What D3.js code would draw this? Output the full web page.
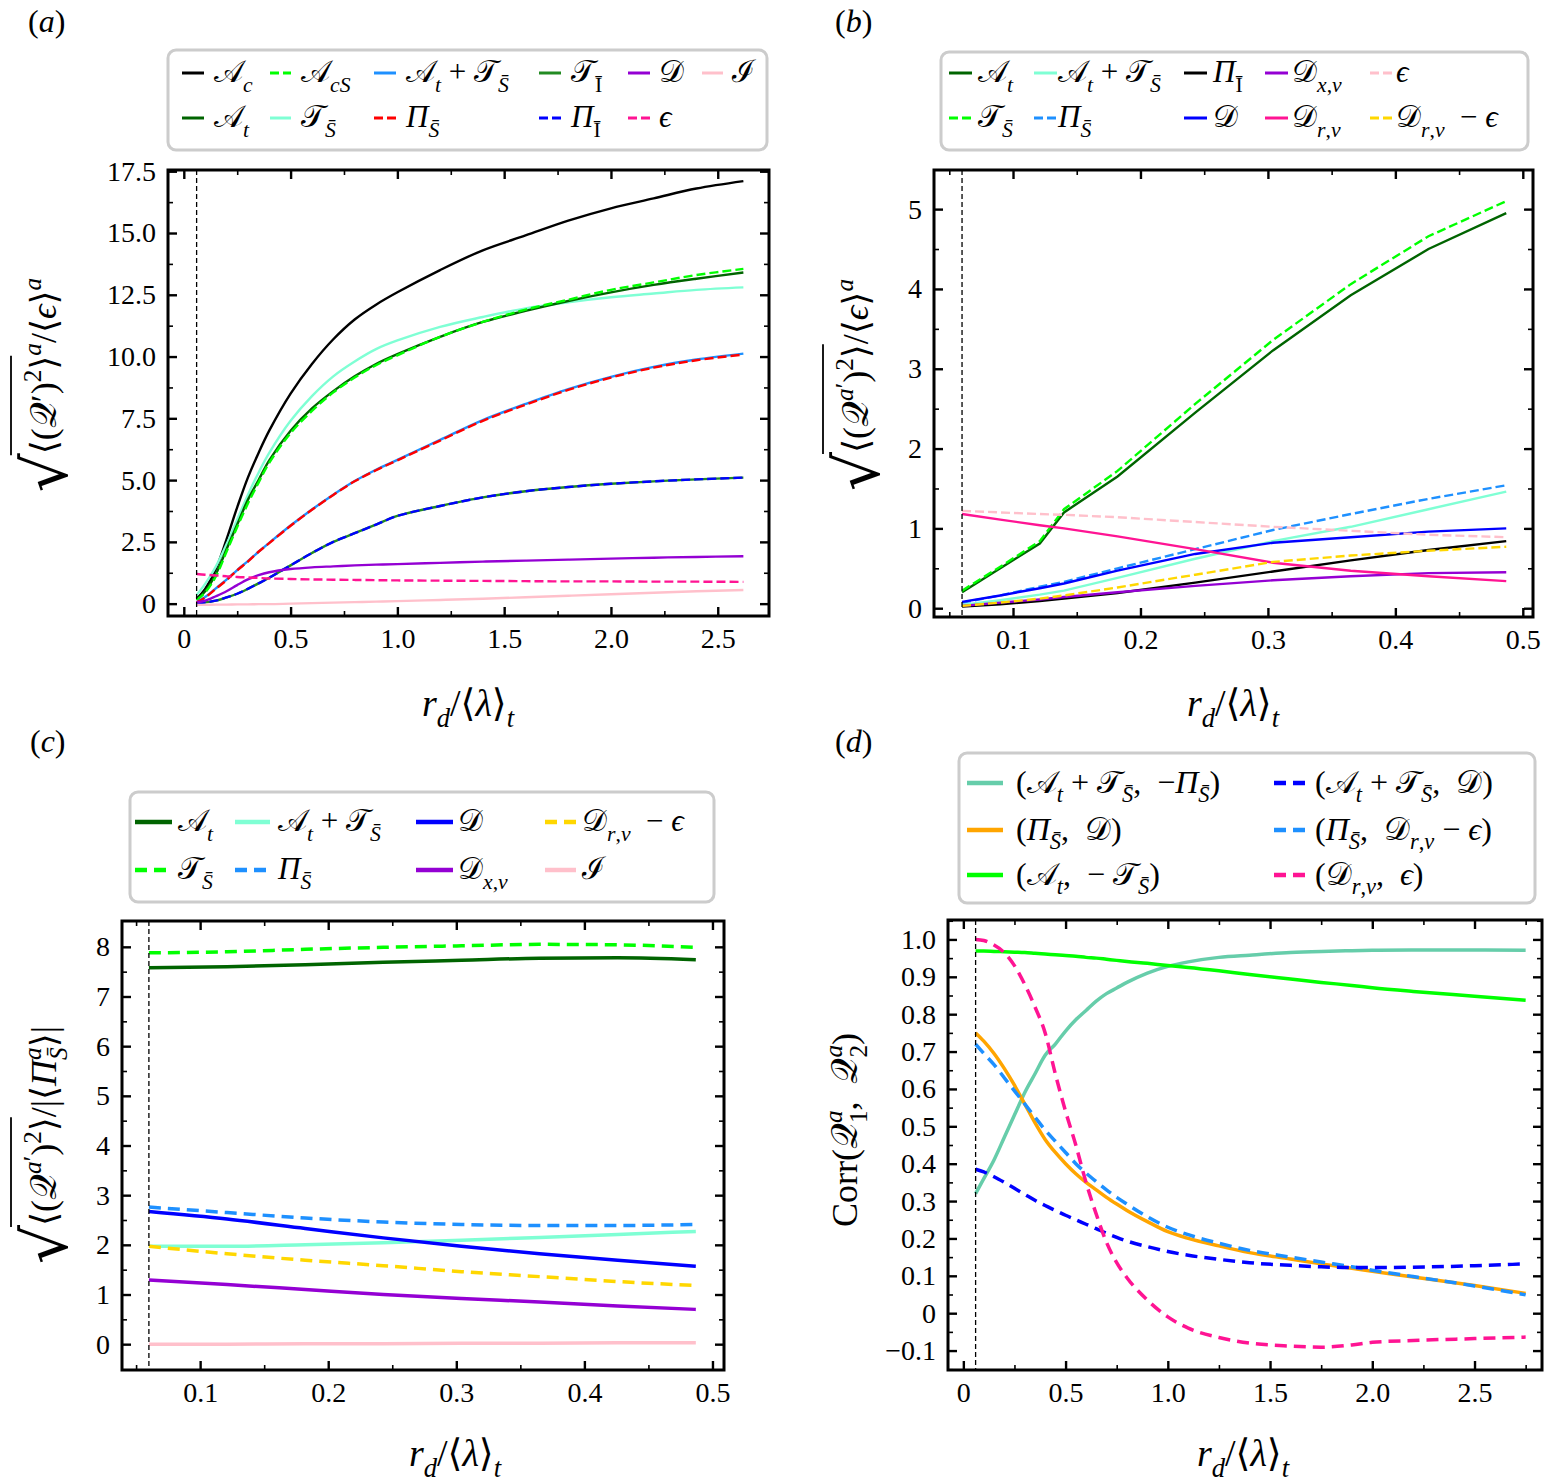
<!DOCTYPE html>
<html>
<head>
<meta charset="utf-8">
<script src="https://cdn.jsdelivr.net/npm/d3@7"></script>
<style>
  body { margin: 0; background: #fff; }
  text { white-space: pre; }
</style>
</head>
<body>
<div id="chart"></div>
<script>

// ---- panel (a): rms of budget terms over <eps>
const aR = [0.06, 0.1, 0.15, 0.2, 0.25, 0.3, 0.35, 0.4, 0.5, 0.6, 0.7, 0.8, 0.9, 1.0, 1.2, 1.4, 1.6, 1.8, 2.0, 2.2, 2.4, 2.62];
const aAc = [0.2, 0.6, 1.4, 2.6, 3.9, 5.1, 6.1, 7.0, 8.5, 9.7, 10.7, 11.5, 12.1, 12.6, 13.5, 14.3, 14.9, 15.5, 16.0, 16.4, 16.8, 17.1];
const aAcS = [0.15, 0.45, 1.1, 2.1, 3.1, 4.05, 4.9, 5.7, 6.9, 7.8, 8.55, 9.15, 9.65, 10.05, 10.8, 11.4, 11.9, 12.3, 12.7, 13.0, 13.3, 13.55];
const aAt = [0.15, 0.5, 1.2, 2.2, 3.2, 4.2, 5.0, 5.8, 7.0, 7.9, 8.6, 9.2, 9.7, 10.1, 10.8, 11.4, 11.85, 12.25, 12.6, 12.9, 13.15, 13.4];
const aTS = [0.35, 0.8, 1.5, 2.4, 3.4, 4.4, 5.3, 6.1, 7.4, 8.4, 9.2, 9.8, 10.3, 10.65, 11.2, 11.6, 11.95, 12.2, 12.4, 12.55, 12.7, 12.8];
const aAtTS = [0.06, 0.27, 0.62, 0.97, 1.36, 1.72, 2.1, 2.46, 3.16, 3.81, 4.41, 4.96, 5.42, 5.82, 6.63, 7.43, 8.08, 8.68, 9.18, 9.58, 9.88, 10.12];
const aPiS = [0.05, 0.25, 0.6, 0.95, 1.35, 1.7, 2.1, 2.45, 3.15, 3.8, 4.4, 4.95, 5.4, 5.8, 6.6, 7.4, 8.05, 8.65, 9.15, 9.55, 9.85, 10.08];
const aTI = [0.02, 0.05, 0.12, 0.25, 0.4, 0.6, 0.82, 1.05, 1.55, 2.05, 2.5, 2.85, 3.2, 3.55, 3.95, 4.3, 4.55, 4.72, 4.85, 4.95, 5.03, 5.1];
const aPiI = [0.02, 0.05, 0.12, 0.25, 0.4, 0.6, 0.82, 1.05, 1.55, 2.05, 2.5, 2.85, 3.2, 3.55, 3.95, 4.3, 4.55, 4.72, 4.85, 4.95, 5.03, 5.1];
const aD = [0.05, 0.12, 0.3, 0.5, 0.75, 0.98, 1.15, 1.27, 1.4, 1.47, 1.51, 1.55, 1.58, 1.6, 1.65, 1.7, 1.74, 1.78, 1.82, 1.86, 1.89, 1.92];
const aEps = [1.2, 1.17, 1.14, 1.11, 1.08, 1.06, 1.04, 1.02, 1.0, 0.98, 0.97, 0.96, 0.95, 0.94, 0.93, 0.92, 0.91, 0.9, 0.9, 0.89, 0.89, 0.88];
const aI = [-0.05, -0.05, -0.04, -0.04, -0.03, -0.03, -0.02, -0.02, 0.0, 0.02, 0.04, 0.06, 0.08, 0.1, 0.15, 0.2, 0.26, 0.32, 0.38, 0.44, 0.5, 0.55];
const aLabels = ["𝒜_{c}", "𝒜_{cS}", "𝒜_{t} + 𝒯_{S̄}", "𝒯_{Ī}", "𝒟", "ℐ", "𝒜_{t}", "𝒯_{S̄}", "Π_{S̄}", "Π_{Ī}", "ϵ"];
const aXTicks = [0, 0.5, 1, 1.5, 2, 2.5];
const aXTickLabels = ["0", "0.5", "1.0", "1.5", "2.0", "2.5"];
const aXMinor = [0.25, 0.75, 1.25, 1.75, 2.25];
const aYTicks = [0, 2.5, 5, 7.5, 10, 12.5, 15, 17.5];
const aYTickLabels = ["0", "2.5", "5.0", "7.5", "10.0", "12.5", "15.0", "17.5"];
const aYMinor = [1.25, 3.75, 6.25, 8.75, 11.25, 13.75, 16.25];
const aYTitle = ["⟨(𝒬′)^{2}⟩", "^{a}/⟨ϵ⟩^{a}"];

// ---- panel (b)
const bR = [0.06, 0.09, 0.121, 0.14, 0.182, 0.243, 0.304, 0.365, 0.426, 0.487];
const bAt = [0.2, 0.5, 0.81, 1.2, 1.65, 2.45, 3.23, 3.92, 4.5, 4.95];
const bTS = [0.22, 0.52, 0.84, 1.24, 1.72, 2.56, 3.36, 4.06, 4.66, 5.1];
const bAtTS = [0.04, 0.1, 0.17, 0.22, 0.38, 0.62, 0.84, 1.02, 1.24, 1.46];
const bPiS = [0.07, 0.16, 0.27, 0.33, 0.5, 0.74, 0.98, 1.18, 1.37, 1.54];
const bPiI = [0.02, 0.05, 0.09, 0.12, 0.19, 0.32, 0.46, 0.6, 0.73, 0.84];
const bD = [0.08, 0.16, 0.25, 0.31, 0.47, 0.68, 0.82, 0.89, 0.96, 1.0];
const bDxv = [0.03, 0.07, 0.11, 0.14, 0.2, 0.28, 0.35, 0.4, 0.44, 0.45];
const bDrv = [1.18, 1.11, 1.04, 1.0, 0.9, 0.74, 0.57, 0.47, 0.4, 0.34];
const bEps = [1.22, 1.2, 1.18, 1.17, 1.14, 1.08, 1.02, 0.97, 0.92, 0.89];
const bDrvEps = [0.03, 0.07, 0.12, 0.16, 0.26, 0.42, 0.58, 0.66, 0.72, 0.77];
const bLabels = ["𝒜_{t}", "𝒜_{t} + 𝒯_{S̄}", "Π_{Ī}", "𝒟_{x,v}", "ϵ", "𝒯_{S̄}", "Π_{S̄}", "𝒟", "𝒟_{r,v}", "𝒟_{r,v}  − ϵ"];
const bXTicks = [0.1, 0.2, 0.3, 0.4, 0.5];
const bXTickLabels = ["0.1", "0.2", "0.3", "0.4", "0.5"];
const bXMinor = [0.05, 0.15, 0.25, 0.35, 0.45];
const bYTicks = [0, 1, 2, 3, 4, 5];
const bYTickLabels = ["0", "1", "2", "3", "4", "5"];
const bYMinor = [0.5, 1.5, 2.5, 3.5, 4.5];
const bYTitle = ["⟨(𝒬^{a′})^{2}⟩", "/⟨ϵ⟩^{a}"];

// ---- panel (c)
const cR = [0.06, 0.121, 0.182, 0.243, 0.304, 0.365, 0.426, 0.487];
const cAt = [7.58, 7.6, 7.64, 7.69, 7.73, 7.77, 7.78, 7.74];
const cTS = [7.88, 7.9, 7.95, 7.99, 8.02, 8.05, 8.04, 7.99];
const cPiS = [2.76, 2.65, 2.54, 2.46, 2.41, 2.39, 2.39, 2.41];
const cD = [2.67, 2.52, 2.33, 2.14, 1.97, 1.82, 1.69, 1.57];
const cAtTS = [1.97, 1.97, 2.0, 2.04, 2.09, 2.15, 2.21, 2.27];
const cDrvEps = [1.97, 1.82, 1.69, 1.58, 1.46, 1.36, 1.26, 1.18];
const cDxv = [1.29, 1.2, 1.1, 1.0, 0.92, 0.85, 0.77, 0.7];
const cI = [0.0, 0.0, 0.01, 0.01, 0.02, 0.02, 0.03, 0.03];
const cLabels = ["𝒜_{t}", "𝒜_{t} + 𝒯_{S̄}", "𝒟", "𝒟_{r,v}  − ϵ", "𝒯_{S̄}", "Π_{S̄}", "𝒟_{x,v}", "ℐ"];
const cYTicks = [0, 1, 2, 3, 4, 5, 6, 7, 8];
const cYTickLabels = ["0", "1", "2", "3", "4", "5", "6", "7", "8"];
const cYMinor = [0.5, 1.5, 2.5, 3.5, 4.5, 5.5, 6.5, 7.5];
const cYTitle = ["⟨(𝒬^{a′})^{2}⟩", "/|⟨Π^{a}_{S̄}⟩|"];

// ---- panel (d): correlations
const dR = [0.06, 0.1, 0.15, 0.2, 0.25, 0.3, 0.35, 0.4, 0.45, 0.5, 0.55, 0.6, 0.65, 0.7, 0.75, 0.8, 0.9, 1.0, 1.1, 1.25, 1.4, 1.6, 1.75, 1.9, 2.0, 2.2, 2.5, 2.75];
const dAtTSPiS = [0.32, 0.36, 0.41, 0.47, 0.53, 0.59, 0.64, 0.69, 0.72, 0.755, 0.785, 0.81, 0.835, 0.855, 0.87, 0.885, 0.91, 0.928, 0.94, 0.952, 0.958, 0.965, 0.968, 0.97, 0.971, 0.972, 0.972, 0.971];
const dPiSD = [0.75, 0.728, 0.695, 0.655, 0.61, 0.56, 0.51, 0.465, 0.43, 0.4, 0.373, 0.35, 0.33, 0.31, 0.292, 0.275, 0.245, 0.218, 0.2, 0.18, 0.162, 0.145, 0.132, 0.12, 0.112, 0.097, 0.074, 0.053];
const dAtTS = [0.969, 0.969, 0.968, 0.967, 0.966, 0.965, 0.963, 0.961, 0.959, 0.957, 0.955, 0.952, 0.95, 0.947, 0.944, 0.941, 0.936, 0.93, 0.925, 0.916, 0.906, 0.894, 0.885, 0.877, 0.871, 0.861, 0.848, 0.837];
const dAtTSD = [0.385, 0.378, 0.365, 0.35, 0.334, 0.318, 0.302, 0.288, 0.275, 0.262, 0.25, 0.238, 0.226, 0.214, 0.203, 0.193, 0.178, 0.165, 0.155, 0.144, 0.135, 0.128, 0.124, 0.122, 0.122, 0.123, 0.127, 0.132];
const dPiSDrvEps = [0.72, 0.695, 0.665, 0.63, 0.595, 0.56, 0.525, 0.49, 0.46, 0.43, 0.4, 0.375, 0.352, 0.33, 0.31, 0.292, 0.258, 0.23, 0.21, 0.187, 0.168, 0.15, 0.137, 0.124, 0.115, 0.098, 0.073, 0.049];
const dDrvEps = [1.0, 0.997, 0.985, 0.965, 0.93, 0.88, 0.82, 0.75, 0.64, 0.54, 0.45, 0.35, 0.265, 0.19, 0.135, 0.095, 0.035, -0.01, -0.04, -0.065, -0.08, -0.088, -0.091, -0.085, -0.078, -0.073, -0.068, -0.064];
const dLabels = ["(𝒜_{t} + 𝒯_{S̄},  −Π_{S̄})", "(Π_{S̄},  𝒟)", "(𝒜_{t},  − 𝒯_{S̄})", "(𝒜_{t} + 𝒯_{S̄},  𝒟)", "(Π_{S̄},  𝒟_{r,v} − ϵ)", "(𝒟_{r,v},  ϵ)"];
const dYTicks = [-0.1, 0, 0.1, 0.2, 0.3, 0.4, 0.5, 0.6, 0.7, 0.8, 0.9, 1.0];
const dYTickLabels = ["−0.1", "0", "0.1", "0.2", "0.3", "0.4", "0.5", "0.6", "0.7", "0.8", "0.9", "1.0"];
const dYMinor = [-0.15, -0.05, 0.05, 0.15, 0.25, 0.35, 0.45, 0.55, 0.65, 0.75, 0.85, 0.95, 1.05];
const dYTitle = [null, "!{Corr}(𝒬^{a}_{1},  𝒬^{a}_{2})"];

const xTitle = "r_{d}/⟨λ⟩_{t}";
const panelNames = ["(a)", "(b)", "(c)", "(d)"];

const W = 1548, H = 1483;
const FONT = "'Liberation Serif', 'DejaVu Serif', serif";

const svg = d3.select('#chart').append('svg')
    .attr('width', W)
    .attr('height', H)
    .attr('font-family', FONT);

svg.append('rect').attr('width', W).attr('height', H).attr('fill', '#fff');

// tiny math markup: _{..} sub, ^{..} sup, !{..} upright
function parseMath(str) {
    const out = [];
    let i = 0, buf = '';
    while (i < str.length) {
        const c = str[i];
        if ('_^!'.includes(c) && str[i + 1] === '{') {
            if (buf) { out.push({ t: buf, lvl: 0 }); buf = ''; }
            const j = str.indexOf('}', i + 2);
            out.push({ t: str.slice(i + 2, j), lvl: c === '_' ? -1 : (c === '^' ? 1 : 0), up: c === '!' });
            i = j + 1;
        } else { buf += c; i++; }
    }
    if (buf) out.push({ t: buf, lvl: 0 });
    return out;
}

function splitItalic(r) {
    const out = [];
    Array.from(r.t).forEach(ch => {
        const comb = /[\u0300-\u036f]/.test(ch);
        const it = r.up ? false : (comb && out.length ? out[out.length - 1].it : /[A-Za-zΠλϵ]/.test(ch));
        if (out.length && out[out.length - 1].it === it) out[out.length - 1].s += ch;
        else out.push({ s: ch, it: it });
    });
    return out;
}

function addMath(text, str, size) {
    const runs = parseMath(str);
    let cur = 0, supW = 0;
    runs.forEach((r, k) => {
        const fs = r.lvl !== 0 ? size * 0.7 : size;
        const target = r.lvl < 0 ? size * 0.3 : (r.lvl > 0 ? -size * 0.42 : 0);
        splitItalic(r).forEach((c, ci) => {
            const ts = text.append('tspan')
                .attr('font-size', fs)
                .attr('font-style', c.it ? 'italic' : 'normal')
                .text(c.s);
            if (ci === 0) {
                if (target !== cur) ts.attr('dy', target - cur);
                if (r.lvl < 0 && k > 0 && runs[k - 1].lvl > 0) ts.attr('dx', -supW);
                cur = target;
            }
        });
        if (r.lvl > 0) supW = Array.from(r.t).length * fs * 0.5;
    });
}

function yTitle(cx, cy, parts, size) {
    const outer = svg.append('g').attr('transform', 'translate(' + cx + ',' + cy + ') rotate(-90)');
    const inner = outer.append('g');
    let xpos = 0;
    if (parts[0]) {
        const r = inner.append('text').attr('x', 0).attr('y', size * 0.3)
            .attr('font-size', size * 1.7).attr('font-family', 'DejaVu Serif').text('√');
        const rb = r.node().getBBox();
        xpos = rb.x + rb.width - 1;
        const rad = inner.append('text').attr('x', xpos).attr('y', 0).attr('font-size', size);
        addMath(rad, parts[0], size);
        const w = rad.node().getComputedTextLength();
        const top = rb.y + 1.5;
        inner.append('line')
            .attr('x1', xpos - 1).attr('x2', xpos + w)
            .attr('y1', top).attr('y2', top)
            .attr('stroke', '#000').attr('stroke-width', 1.8);
        xpos += w;
    }
    const rest = inner.append('text').attr('x', xpos).attr('y', 0).attr('font-size', size);
    addMath(rest, parts[1], size);
    const bb = inner.node().getBBox();
    inner.attr('transform', 'translate(' + (-bb.x - bb.width / 2) + ',' + (-bb.y - bb.height / 2) + ')');
}

const panels = [
    {
        frame: [168, 170, 769, 616], xd: [-0.074, 2.74], yd: [-0.5, 17.55], r: aR,
        xTicks: aXTicks, xTickLabels: aXTickLabels, xMinor: aXMinor,
        yTicks: aYTicks, yTickLabels: aYTickLabels, yMinor: aYMinor,
        vline: 0.06, lw: 2.4, dash: '9,4', curve: d3.curveCatmullRom.alpha(0.5),
        name: [28, 32], xt: [468, 716], yt: [45, 385, aYTitle],
        legend: {
            box: [168, 50, 767, 150], rows: [73, 118], size: 31, lw: 3, dash: '9,4',
            lineX: [[182, 204], [270, 291], [374, 396], [539, 561], [628, 650], [702, 723]],
            textX: [214, 301, 406, 571, 659, 732]
        },
        series: [
            { y: aAc, label: aLabels[0], color: '#000000', col: 0, row: 0 },
            { y: aTS, label: aLabels[7], color: '#7fffd4', col: 1, row: 1 },
            { y: aAt, label: aLabels[6], color: '#006400', col: 0, row: 1 },
            { y: aAcS, label: aLabels[1], color: '#00ff00', dashed: true, col: 1, row: 0 },
            { y: aAtTS, label: aLabels[2], color: '#1e90ff', col: 2, row: 0 },
            { y: aPiS, label: aLabels[8], color: '#ff0000', dashed: true, col: 2, row: 1 },
            { y: aTI, label: aLabels[3], color: '#228b22', col: 3, row: 0 },
            { y: aPiI, label: aLabels[9], color: '#0000ff', dashed: true, col: 3, row: 1 },
            { y: aD, label: aLabels[4], color: '#9400d3', col: 4, row: 0 },
            { y: aEps, label: aLabels[10], color: '#ff1493', dashed: true, col: 4, row: 1 },
            { y: aI, label: aLabels[5], color: '#ffc0cb', col: 5, row: 0 }
        ]
    },
    {
        frame: [934, 170, 1533, 617], xd: [0.038, 0.508], yd: [-0.11, 5.49], r: bR,
        xTicks: bXTicks, xTickLabels: bXTickLabels, xMinor: bXMinor,
        yTicks: bYTicks, yTickLabels: bYTickLabels, yMinor: bYMinor,
        vline: 0.06, lw: 2.4, dash: '9,4', curve: d3.curveLinear,
        name: [835, 32], xt: [1233, 716], yt: [857, 385, bYTitle],
        legend: {
            box: [941, 52, 1528, 150], rows: [73, 118], size: 31, lw: 3, dash: '9,4',
            lineX: [[949, 972], [1034, 1057], [1184, 1207], [1265, 1288], [1370, 1392]],
            textX: [978, 1058, 1213, 1292, 1396]
        },
        series: [
            { y: bAt, label: bLabels[0], color: '#006400', col: 0, row: 0 },
            { y: bTS, label: bLabels[5], color: '#00ff00', dashed: true, col: 0, row: 1 },
            { y: bAtTS, label: bLabels[1], color: '#7fffd4', col: 1, row: 0 },
            { y: bPiS, label: bLabels[6], color: '#1e90ff', dashed: true, col: 1, row: 1 },
            { y: bPiI, label: bLabels[2], color: '#000000', col: 2, row: 0 },
            { y: bD, label: bLabels[7], color: '#0000ff', col: 2, row: 1 },
            { y: bDxv, label: bLabels[3], color: '#9400d3', col: 3, row: 0 },
            { y: bDrv, label: bLabels[8], color: '#ff1493', col: 3, row: 1 },
            { y: bEps, label: bLabels[4], color: '#ffc0cb', dashed: true, col: 4, row: 0 },
            { y: bDrvEps, label: bLabels[9], color: '#ffd700', dashed: true, col: 4, row: 1 }
        ]
    },
    {
        frame: [122, 921, 724, 1370], xd: [0.039, 0.509], yd: [-0.52, 8.52], r: cR,
        xTicks: bXTicks, xTickLabels: bXTickLabels, xMinor: bXMinor,
        yTicks: cYTicks, yTickLabels: cYTickLabels, yMinor: cYMinor,
        vline: 0.06, lw: 3.5, dash: '12,7', curve: d3.curveMonotoneX,
        name: [30, 752], xt: [455, 1466], yt: [45, 1145, cYTitle],
        legend: {
            box: [130, 792, 714, 902], rows: [822, 870], size: 31, lw: 4.5, dash: '12,7',
            lineX: [[135, 172], [235, 270], [416, 453], [545, 576]],
            textX: [178, 278, 458, 582]
        },
        series: [
            { y: cAt, label: cLabels[0], color: '#006400', col: 0, row: 0 },
            { y: cTS, label: cLabels[4], color: '#00ff00', dashed: true, col: 0, row: 1 },
            { y: cAtTS, label: cLabels[1], color: '#7fffd4', col: 1, row: 0 },
            { y: cPiS, label: cLabels[5], color: '#1e90ff', dashed: true, col: 1, row: 1 },
            { y: cD, label: cLabels[2], color: '#0000ff', col: 2, row: 0 },
            { y: cDxv, label: cLabels[6], color: '#9400d3', col: 2, row: 1 },
            { y: cDrvEps, label: cLabels[3], color: '#ffd700', dashed: true, col: 3, row: 0 },
            { y: cI, label: cLabels[7], color: '#ffc0cb', col: 3, row: 1 }
        ]
    },
    {
        frame: [948, 920, 1542, 1370], xd: [-0.075, 2.83], yd: [-0.152, 1.052], r: dR,
        xTicks: aXTicks, xTickLabels: aXTickLabels, xMinor: aXMinor.concat([2.75]),
        yTicks: dYTicks, yTickLabels: dYTickLabels, yMinor: dYMinor,
        vline: 0.06, lw: 3.5, dash: '12,7', curve: d3.curveMonotoneX,
        name: [835, 752], xt: [1243, 1466], yt: [846, 1130, dYTitle],
        legend: {
            box: [959, 753, 1535, 903], rows: [783, 830, 875], size: 32, lw: 4.5, dash: '12,7',
            lineX: [[967, 1003], [1274, 1306]],
            textX: [1016, 1315]
        },
        series: [
            { y: dAtTSPiS, label: dLabels[0], color: '#66cdaa', col: 0, row: 0 },
            { y: dAtTS, label: dLabels[2], color: '#00ff00', col: 0, row: 2 },
            { y: dPiSD, label: dLabels[1], color: '#ffa500', col: 0, row: 1 },
            { y: dPiSDrvEps, label: dLabels[4], color: '#1e90ff', dashed: true, col: 1, row: 1 },
            { y: dAtTSD, label: dLabels[3], color: '#0000ff', dashed: true, col: 1, row: 0 },
            { y: dDrvEps, label: dLabels[5], color: '#ff1493', dashed: true, col: 1, row: 2 }
        ]
    }
];

function styleAxis(g, major) {
    g.select('.domain').remove();
    g.selectAll('.tick line').attr('stroke', '#000').attr('stroke-width', major ? 2.4 : 1.6);
    g.selectAll('.tick text').attr('font-family', FONT).attr('font-size', 28).attr('fill', '#000');
}

panels.forEach(function (p, pi) {
    const [x0, y0, x1, y1] = p.frame;
    const x = d3.scaleLinear().domain(p.xd).range([x0, x1]);
    const y = d3.scaleLinear().domain(p.yd).range([y1, y0]);
    const g = svg.append('g');

    p.series.forEach(function (s) {
        const line = d3.line()
            .x((d, i) => x(p.r[i]))
            .y(d => y(d))
            .curve(p.curve);
        g.append('path')
            .datum(s.y)
            .attr('d', line)
            .attr('fill', 'none')
            .attr('stroke', s.color)
            .attr('stroke-width', p.lw)
            .attr('stroke-dasharray', s.dashed ? p.dash : null);
    });

    g.append('line')
        .attr('x1', x(p.vline)).attr('x2', x(p.vline))
        .attr('y1', y0).attr('y2', y1)
        .attr('stroke', '#000').attr('stroke-width', 1.3)
        .attr('stroke-dasharray', '5,3');

    // axes, ticks pointing inwards on all four sides
    const maj = 9, mnr = 5;
    g.append('g').attr('transform', 'translate(0,' + y1 + ')')
        .call(d3.axisBottom(x).tickValues(p.xTicks).tickFormat((d, i) => p.xTickLabels[i]).tickSizeInner(-maj).tickSizeOuter(0).tickPadding(12))
        .call(a => styleAxis(a, true));
    g.append('g').attr('transform', 'translate(0,' + y1 + ')')
        .call(d3.axisBottom(x).tickValues(p.xMinor).tickFormat('').tickSizeInner(-mnr).tickSizeOuter(0))
        .call(a => styleAxis(a, false));
    g.append('g').attr('transform', 'translate(0,' + y0 + ')')
        .call(d3.axisTop(x).tickValues(p.xTicks).tickFormat('').tickSizeInner(-maj).tickSizeOuter(0))
        .call(a => styleAxis(a, true));
    g.append('g').attr('transform', 'translate(0,' + y0 + ')')
        .call(d3.axisTop(x).tickValues(p.xMinor).tickFormat('').tickSizeInner(-mnr).tickSizeOuter(0))
        .call(a => styleAxis(a, false));
    g.append('g').attr('transform', 'translate(' + x0 + ',0)')
        .call(d3.axisLeft(y).tickValues(p.yTicks).tickFormat((d, i) => p.yTickLabels[i]).tickSizeInner(-maj).tickSizeOuter(0).tickPadding(12))
        .call(a => styleAxis(a, true));
    g.append('g').attr('transform', 'translate(' + x0 + ',0)')
        .call(d3.axisLeft(y).tickValues(p.yMinor).tickFormat('').tickSizeInner(-mnr).tickSizeOuter(0))
        .call(a => styleAxis(a, false));
    g.append('g').attr('transform', 'translate(' + x1 + ',0)')
        .call(d3.axisRight(y).tickValues(p.yTicks).tickFormat('').tickSizeInner(-maj).tickSizeOuter(0))
        .call(a => styleAxis(a, true));
    g.append('g').attr('transform', 'translate(' + x1 + ',0)')
        .call(d3.axisRight(y).tickValues(p.yMinor).tickFormat('').tickSizeInner(-mnr).tickSizeOuter(0))
        .call(a => styleAxis(a, false));

    g.append('rect')
        .attr('x', x0).attr('y', y0)
        .attr('width', x1 - x0).attr('height', y1 - y0)
        .attr('fill', 'none').attr('stroke', '#000').attr('stroke-width', 3);

    // legend
    const L = p.legend;
    svg.append('rect')
        .attr('x', L.box[0]).attr('y', L.box[1])
        .attr('width', L.box[2] - L.box[0]).attr('height', L.box[3] - L.box[1])
        .attr('rx', 8).attr('fill', '#fff')
        .attr('stroke', '#cccccc').attr('stroke-width', 3);
    p.series.forEach(function (s) {
        const ly = L.rows[s.row];
        svg.append('line')
            .attr('x1', L.lineX[s.col][0]).attr('x2', L.lineX[s.col][1])
            .attr('y1', ly).attr('y2', ly)
            .attr('stroke', s.color).attr('stroke-width', L.lw)
            .attr('stroke-dasharray', s.dashed ? L.dash : null);
        const t = svg.append('text')
            .attr('x', L.textX[s.col]).attr('y', ly + L.size * 0.3)
            .attr('font-size', L.size);
        addMath(t, s.label, L.size);
    });

    // titles
    const nt = svg.append('text').attr('x', p.name[0]).attr('y', p.name[1]).attr('font-size', 32);
    addMath(nt, panelNames[pi], 32);
    const xt = svg.append('text').attr('x', p.xt[0]).attr('y', p.xt[1]).attr('font-size', 38).attr('text-anchor', 'middle');
    addMath(xt, xTitle, 38);
    yTitle(p.yt[0], p.yt[1], p.yt[2], 36);
});

</script>
</body>
</html>
